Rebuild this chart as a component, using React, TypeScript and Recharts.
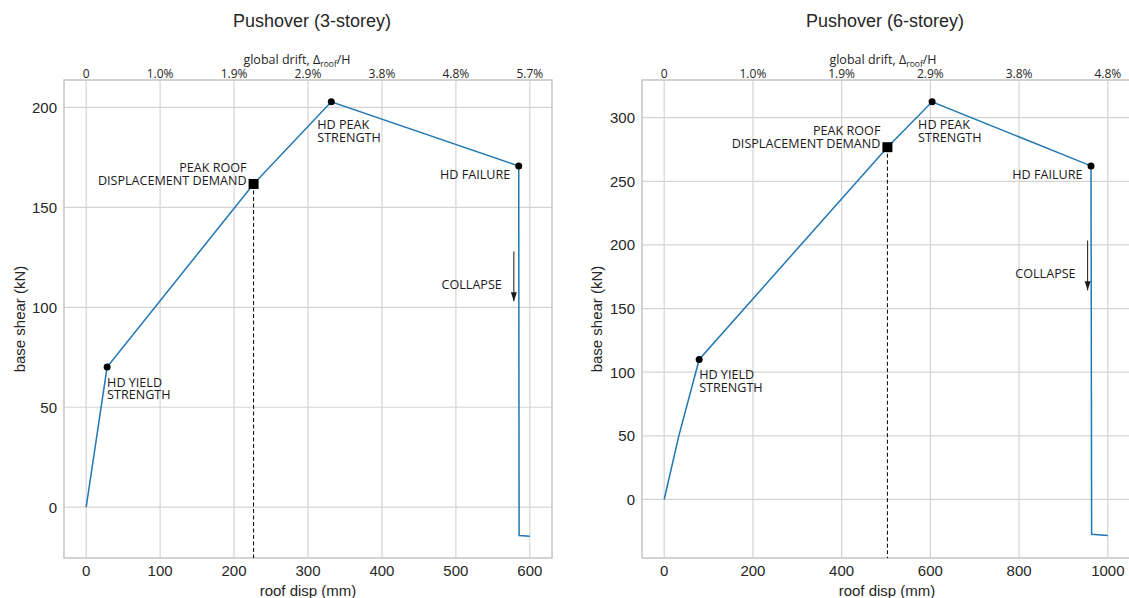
import React from "react";
import {
  CartesianGrid,
  Line,
  LineChart,
  ReferenceArea,
  ReferenceDot,
  ReferenceLine,
  XAxis,
  YAxis,
} from "recharts";

// ---- 3-storey ----
const disp3 = [0, 28.3, 226.4, 331.5, 585, 585.5, 600];
const shear3 = [0, 70.1, 161.7, 202.8, 170.7, -14.2, -14.5];
const xTicks3 = [0, 100, 200, 300, 400, 500, 600];
const drift3 = ["0", "1.0%", "1.9%", "2.9%", "3.8%", "4.8%", "5.7%"];
const yTicks3 = [0, 50, 100, 150, 200];
const yield3 = [28.3, 70.1];
const demand3 = [226.4, 161.7];
const peak3 = [331.5, 202.8];
const fail3 = [585, 170.7];
const collapse3 = [578.4, 128, 103];

// ---- 6-storey ----
const disp6 = [0, 33, 78.9, 503.2, 603.9, 962.1, 963.5, 1000];
const shear6 = [0, 50, 110, 276.8, 312.5, 262.1, -27.3, -28.3];
const xTicks6 = [0, 200, 400, 600, 800, 1000];
const drift6 = ["0", "1.0%", "1.9%", "2.9%", "3.8%", "4.8%"];
const yTicks6 = [0, 50, 100, 150, 200, 250, 300];
const yield6 = [78.9, 110];
const demand6 = [503.2, 276.8];
const peak6 = [603.9, 312.5];
const fail6 = [962.1, 262.1];
const collapse6 = [954.5, 203.5, 164.3];

const H = 598;
const PLOT_TOP = 80;
const PLOT_BOTTOM = 558;
const INK = "#262626";
const GRID = "#d4d4d4";
const BLUE = "#1f77b4";
const SANS = "'Liberation Sans', Arial, sans-serif";
const NOTE_FONT = "'Open Sans', sans-serif";

const noteStyle = { fontSize: 12.6, fontFamily: NOTE_FONT, fill: "#1a1a1a" };

function Note({ x, y, lines, anchor }: { x: number; y: number; lines: string[]; anchor: "start" | "end" }) {
  return (
    <text x={x} y={y} textAnchor={anchor} dominantBaseline="central" {...noteStyle}>
      {lines.map((l, i) => (
        <tspan key={i} x={x} dy={i === 0 ? 0 : 12.8}>
          {l}
        </tspan>
      ))}
    </text>
  );
}

type PanelProps = {
  left: number;
  width: number;
  yAxisWidth: number;
  marginRight: number;
  disp: number[];
  shear: number[];
  xDomain: [number, number];
  yDomain: [number, number];
  xTicks: number[];
  drift: string[];
  yTicks: number[];
  yieldPt: number[];
  demandPt: number[];
  peakPt: number[];
  failPt: number[];
  collapse: number[];
  title: string;
  titleX: number;
  driftX: number;
  xLabelX: number;
  yLabelX: number;
};

function Panel(p: PanelProps) {
  const data = p.disp.map((x, i) => ({ x, y: p.shear[i] }));
  const plotLeft = p.yAxisWidth;

  const bottomTick = (t: any) => (
    <text x={t.x} y={PLOT_BOTTOM + 12} textAnchor="middle" dominantBaseline="central" fontSize={15} fontFamily={SANS} fill={INK}>
      {t.payload.value}
    </text>
  );
  const topTick = (t: any) => {
    const idx = p.xTicks.indexOf(t.payload.value);
    return (
      <text x={t.x} y={PLOT_TOP - 7} textAnchor="middle" dominantBaseline="central" fontSize={12} fontFamily={NOTE_FONT} fill={INK}>
        {p.drift[idx]}
      </text>
    );
  };
  const leftTick = (t: any) => (
    <text x={plotLeft - 7} y={t.y} textAnchor="end" dominantBaseline="central" fontSize={15} fontFamily={SANS} fill={INK}>
      {t.payload.value}
    </text>
  );

  const dot = (lines: string[], dx: number, dy: number, anchor: "start" | "end") => (s: any) => (
    <g>
      <circle cx={s.cx} cy={s.cy} r={3.5} fill="#000" />
      <Note x={s.cx + dx} y={s.cy + dy} lines={lines} anchor={anchor} />
    </g>
  );
  const square = (s: any) => (
    <g>
      <rect x={s.cx - 5} y={s.cy - 5} width={10} height={10} fill="#000" />
      <Note x={s.cx - 7} y={s.cy - 17} lines={["PEAK ROOF", "DISPLACEMENT DEMAND"]} anchor="end" />
    </g>
  );
  const arrowHead = (s: any) => (
    <g>
      <path d={`M${s.cx - 3},${s.cy - 9} L${s.cx + 3},${s.cy - 9} L${s.cx},${s.cy} Z`} fill="#1a1a1a" />
      <Note x={s.cx - 12} y={s.cy - 17} lines={["COLLAPSE"]} anchor="end" />
    </g>
  );

  const common = { position: "absolute" as const, whiteSpace: "nowrap" as const, color: INK };

  return (
    <div style={{ position: "absolute", left: p.left, top: 0, width: p.width, height: H }}>
      <LineChart
        width={p.width}
        height={H}
        data={data}
        margin={{ top: 50, right: p.marginRight, bottom: 0, left: 0 }}
      >
        <CartesianGrid stroke={GRID} strokeWidth={1.2} />
        <XAxis
          dataKey="x"
          type="number"
          domain={p.xDomain}
          allowDataOverflow
          ticks={p.xTicks}
          height={40}
          tickLine={false}
          axisLine={false}
          tick={bottomTick}
        />
        <XAxis
          xAxisId="top"
          orientation="top"
          dataKey="x"
          type="number"
          domain={p.xDomain}
          allowDataOverflow
          ticks={p.xTicks}
          height={30}
          tickLine={false}
          axisLine={false}
          tick={topTick}
        />
        <YAxis
          type="number"
          domain={p.yDomain}
          allowDataOverflow
          ticks={p.yTicks}
          width={p.yAxisWidth}
          tickLine={false}
          axisLine={false}
          tick={leftTick}
        />
        <ReferenceArea
          x1={p.xDomain[0]}
          x2={p.xDomain[1]}
          y1={p.yDomain[0]}
          y2={p.yDomain[1]}
          fill="none"
          stroke="#cccccc"
          strokeWidth={1.5}
          ifOverflow="visible"
        />
        <ReferenceLine
          segment={[
            { x: p.demandPt[0], y: p.demandPt[1] },
            { x: p.demandPt[0], y: p.yDomain[0] },
          ]}
          stroke="#000"
          strokeWidth={1}
          strokeDasharray="4 2.5"
          ifOverflow="visible"
        />
        <Line
          dataKey="y"
          type="linear"
          stroke={BLUE}
          strokeWidth={1.5}
          dot={false}
          activeDot={false}
          isAnimationActive={false}
        />
        <ReferenceLine
          segment={[
            { x: p.collapse[0], y: p.collapse[1] },
            { x: p.collapse[0], y: p.collapse[2] },
          ]}
          stroke="#1a1a1a"
          strokeWidth={1}
          ifOverflow="visible"
        />
        <ReferenceDot x={p.collapse[0]} y={p.collapse[2]} r={0} ifOverflow="visible" shape={arrowHead} />
        <ReferenceDot x={p.yieldPt[0]} y={p.yieldPt[1]} r={3.5} ifOverflow="visible" shape={dot(["HD YIELD", "STRENGTH"], 0, 14.5, "start")} />
        <ReferenceDot x={p.peakPt[0]} y={p.peakPt[1]} r={3.5} ifOverflow="visible" shape={dot(["HD PEAK", "STRENGTH"], -14, 22.5, "start")} />
        <ReferenceDot x={p.failPt[0]} y={p.failPt[1]} r={3.5} ifOverflow="visible" shape={dot(["HD FAILURE"], -8.5, 8.5, "end")} />
        <ReferenceDot x={p.demandPt[0]} y={p.demandPt[1]} r={5} ifOverflow="visible" shape={square} />
      </LineChart>

      <div style={{ ...common, left: p.titleX, top: 21, transform: "translate(-50%,-50%)", fontSize: 18, fontFamily: SANS }}>
        {p.title}
      </div>
      <div style={{ ...common, left: p.driftX, top: 59, transform: "translate(-50%,-50%)", fontSize: 12.5, fontFamily: NOTE_FONT }}>
        global drift, Δ
        <span style={{ fontSize: 8.5, position: "relative", top: 2.5 }}>roof</span>/H
      </div>
      <div style={{ ...common, left: p.xLabelX, top: 590, transform: "translate(-50%,-50%)", fontSize: 15, fontFamily: SANS }}>
        roof disp (mm)
      </div>
      <div
        style={{
          ...common,
          left: p.yLabelX,
          top: (PLOT_TOP + PLOT_BOTTOM) / 2,
          transform: "translate(-50%,-50%) rotate(-90deg)",
          fontSize: 15,
          fontFamily: SANS,
        }}
      >
        base shear (kN)
      </div>
    </div>
  );
}

export default function App() {
  return (
    <div style={{ position: "absolute", left: 0, top: 0, width: 1129, height: H, overflow: "hidden", background: "#fff" }}>
      <Panel
        left={0}
        width={570}
        yAxisWidth={64}
        marginRight={18}
        disp={disp3}
        shear={shear3}
        xDomain={[-30, 630]}
        yDomain={[-25.4, 213.7]}
        xTicks={xTicks3}
        drift={drift3}
        yTicks={yTicks3}
        yieldPt={yield3}
        demandPt={demand3}
        peakPt={peak3}
        failPt={fail3}
        collapse={collapse3}
        title="Pushover (3-storey)"
        titleX={312}
        driftX={297}
        xLabelX={308}
        yLabelX={19}
      />
      <Panel
        left={572}
        width={560}
        yAxisWidth={70}
        marginRight={2}
        disp={disp6}
        shear={shear6}
        xDomain={[-50, 1050]}
        yDomain={[-46, 329.6]}
        xTicks={xTicks6}
        drift={drift6}
        yTicks={yTicks6}
        yieldPt={yield6}
        demandPt={demand6}
        peakPt={peak6}
        failPt={fail6}
        collapse={collapse6}
        title="Pushover (6-storey)"
        titleX={313}
        driftX={311}
        xLabelX={315}
        yLabelX={24}
      />
    </div>
  );
}
